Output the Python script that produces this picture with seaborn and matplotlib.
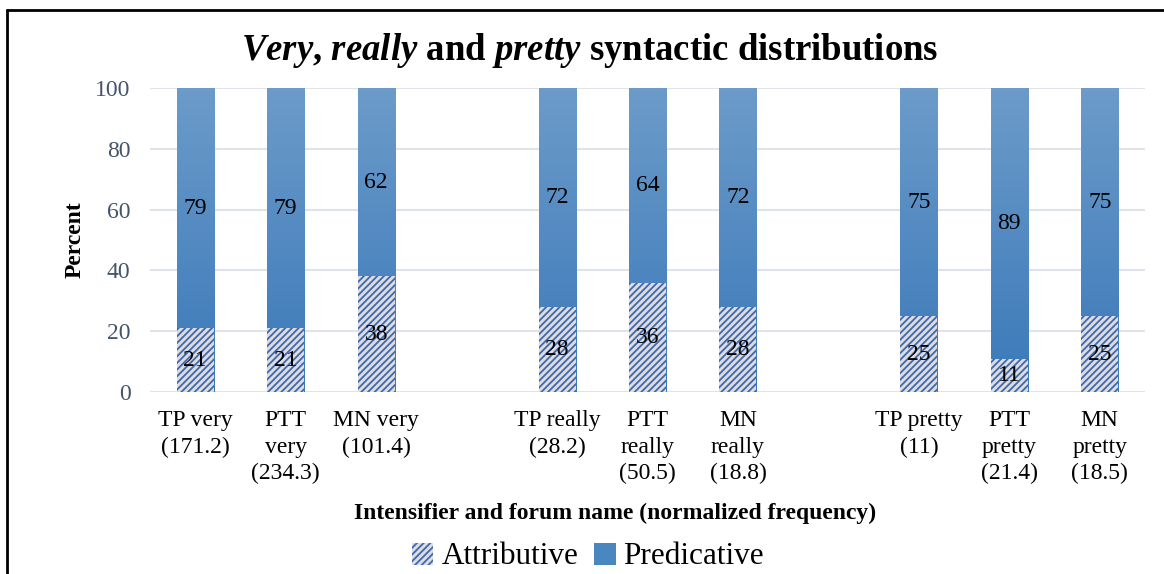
import numpy as np
import pandas as pd
import matplotlib.pyplot as plt
import seaborn as sns
from matplotlib.patches import Patch
from matplotlib.lines import Line2D
from matplotlib.colors import LinearSegmentedColormap

sns.set_theme(style="white")
plt.rcParams["font.family"] = ["Liberation Serif", "DejaVu Serif"]
plt.rcParams["text.color"] = "black"
plt.rcParams["axes.labelcolor"] = "black"
plt.rcParams["mathtext.fontset"] = "custom"
plt.rcParams["mathtext.it"] = "Liberation Serif:italic:bold"
plt.rcParams["mathtext.rm"] = "Liberation Serif:bold"
plt.rcParams["hatch.linewidth"] = 1.3

# data
categories = [
    "TP very\n(171.2)", "PTT\nvery\n(234.3)", "MN very\n(101.4)",
    "TP really\n(28.2)", "PTT\nreally\n(50.5)", "MN\nreally\n(18.8)",
    "TP pretty\n(11)", "PTT\npretty\n(21.4)", "MN\npretty\n(18.5)",
]
attributive = [21, 21, 38, 28, 36, 28, 25, 11, 25]
predicative = [79, 79, 62, 72, 64, 72, 75, 89, 75]

# empty slots between the three intensifier groups
order = categories[:3] + [" "] + categories[3:6] + ["  "] + categories[6:]

df = pd.DataFrame({
    "category": categories,
    "attributive": attributive,
    "predicative": predicative,
})
df["total"] = df["attributive"] + df["predicative"]

fig = plt.figure(figsize=(11.64, 5.74), dpi=100)
ax = fig.add_axes([150 / 1164, 1 - 392 / 574, 995 / 1164, 304 / 574])

# full bars (predicative on top of attributive)
sns.barplot(data=df, x="category", y="total", order=order, width=0.41,
            color="#4a86c0", ax=ax, zorder=2)
pred_bars = list(ax.containers[0])

sns.barplot(data=df, x="category", y="attributive", order=order, width=0.41,
            color="#dcdde0", ax=ax, zorder=4)
attr_bars = list(ax.containers[1])
for p in attr_bars:
    p.set_hatch("/////")
    p.set_edgecolor("#3f68b0")
    p.set_linewidth(0)

ax.set_ylim(0, 100)
xlim = ax.get_xlim()

# gradient fill for predicative part
grad = LinearSegmentedColormap.from_list("g", ["#3a79b9", "#6c9bca"])
for p in pred_bars:
    p.set_facecolor("none")
    p.set_linewidth(0)
    x0, w = p.get_x(), p.get_width()
    im = ax.imshow(np.linspace(0, 1, 100).reshape(-1, 1), cmap=grad,
                   extent=[x0, x0 + w, 0, 100], origin="lower",
                   aspect="auto", zorder=3)
    im.set_clip_path(p)
ax.set_xlim(xlim)
ax.set_ylim(0, 100)

# value labels
for p, v in zip(attr_bars, attributive):
    ax.text(p.get_x() + p.get_width() / 2, v / 2, str(v), ha="center",
            va="center", fontsize=17, color="black", zorder=6)
for p, a, v in zip(pred_bars, attributive, predicative):
    ax.text(p.get_x() + p.get_width() / 2, a + v / 2, str(v), ha="center",
            va="center", fontsize=17, color="black", zorder=6)

ax.set_yticks([0, 20, 40, 60, 80, 100])
ax.yaxis.grid(True, color="#dfe3ea", linewidth=1.5)
ax.set_axisbelow(True)
sns.despine(ax=ax, left=True, bottom=True)
ax.tick_params(axis="y", length=0, pad=14, labelsize=17, labelcolor="#44546a")
ax.tick_params(axis="x", length=0, pad=13, labelsize=17, labelcolor="black")
ax.set_xticks(range(len(order)))
ax.set_xticklabels([o if o.strip() else "" for o in order], linespacing=1.35)

ax.set_xlabel("Intensifier and forum name (normalized frequency)",
              fontsize=17, fontweight="bold")
ax.xaxis.set_label_coords(0.467, -0.365)
ax.set_ylabel("Percent", fontsize=17, fontweight="bold")
ax.yaxis.set_label_coords(-0.065, 0.5)

fig.text(0.507, 1 - 50 / 574,
         r"$\mathit{Very}$, $\mathit{really}$ and $\mathit{pretty}$ syntactic distributions",
         ha="center", va="center", fontsize=26.5, fontweight="bold")

handles = [
    Patch(facecolor="#dcdde0", edgecolor="#3f68b0", hatch="/////", linewidth=0,
          label="Attributive"),
    Patch(facecolor="#4a86c0", linewidth=0, label="Predicative"),
]
fig.legend(handles=handles, loc="center", bbox_to_anchor=(0.505, 1 - 557 / 574),
           ncol=2, frameon=False, fontsize=22.5, handlelength=0.7,
           handleheight=0.7, handletextpad=0.25, columnspacing=0.5)

# chart border (top and left edges visible in the crop)
fig.add_artist(Line2D([7 / 1164, 1], [1 - 10 / 574] * 2, color="black", lw=2,
                      transform=fig.transFigure))
fig.add_artist(Line2D([7 / 1164] * 2, [0, 1 - 10 / 574], color="black", lw=2,
                      transform=fig.transFigure))

fig.savefig("out.png", dpi=100)
